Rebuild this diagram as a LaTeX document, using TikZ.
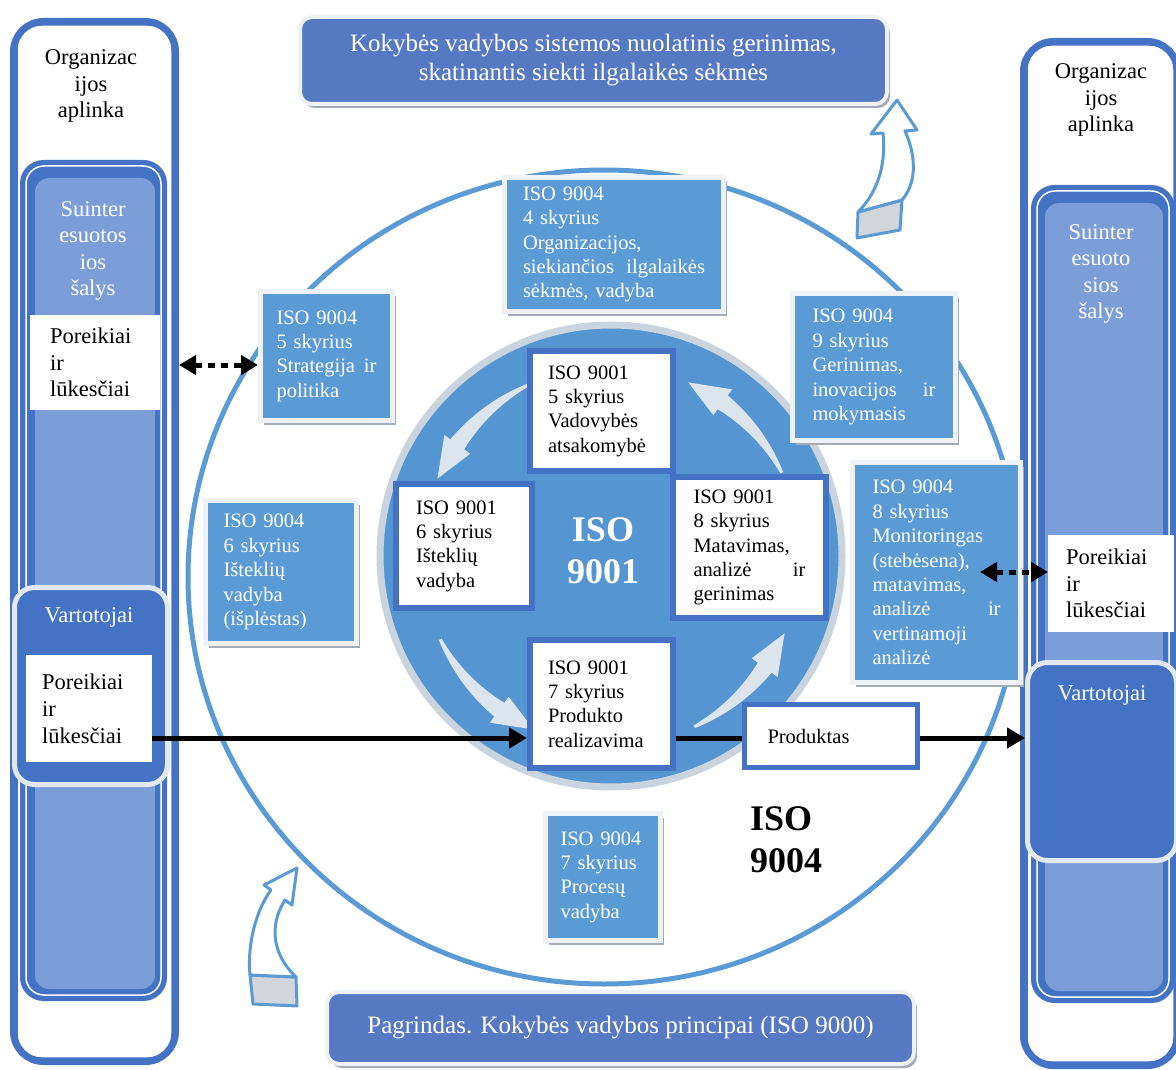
\documentclass[tikz,border=0pt]{standalone}
\usepackage{fontspec}
\setmainfont{Liberation Serif}
\usetikzlibrary{arrows.meta,shapes.geometric,shadows}

\definecolor{frameblue}{HTML}{4472C4}
\definecolor{paleblue}{HTML}{7C9ED8}
\definecolor{midblue}{HTML}{5B9BD5}
\definecolor{coreblue}{HTML}{5596D2}
\definecolor{bannerblue}{HTML}{5679C3}
\definecolor{rimgrey}{HTML}{CAD4DF}
\definecolor{rimwhite}{HTML}{E2E8EF}
\definecolor{edgewhite}{HTML}{EEF1F5}
\definecolor{shadowgrey}{HTML}{A3ABB4}
\definecolor{ribbon}{HTML}{DCE4ED}
\definecolor{foldgrey}{HTML}{D2D5D9}

\newcommand\txtbox{\fontsize{20.5}{24.4}\selectfont}
\newcommand\txtcol{\fontsize{22.5}{26.6}\selectfont}
\newcommand\txtbanner{\fontsize{25}{29}\selectfont}
\newcommand\txtbig{\fontsize{36}{42}\selectfont\bfseries}

\tikzset{
  colframe/.style={rectangle, draw=frameblue, line width=7pt, rounded corners=30pt, fill=white, inner sep=0pt, anchor=north west},
  container/.style={rectangle, draw=frameblue, fill=frameblue, line width=3pt, rounded corners=22pt, inner sep=0pt, anchor=north west},
  vartbox/.style={rectangle, draw=rimwhite, fill=frameblue, line width=5pt, rounded corners=20pt, inner sep=0pt, anchor=north west},
  whitebox/.style={rectangle, fill=white, anchor=north west, font=\txtcol, align=left, inner ysep=0pt, text=black},
  coltitle/.style={font=\txtcol, align=center, inner sep=0pt},
  isobox/.style={rectangle, draw=frameblue, line width=6pt, fill=white, anchor=north west, font=\txtbox, align=left, inner ysep=0pt},
  boxshadow/.style={drop shadow={shadow xshift=3pt, shadow yshift=-4pt, fill=shadowgrey, opacity=1}},
  advbox/.style={rectangle, draw=edgewhite, line width=5pt, fill=midblue, text=white, anchor=north west, font=\txtbox, align=left, inner ysep=0pt, boxshadow},
  banner/.style={rectangle, rounded corners=12pt, draw=edgewhite, line width=4pt, fill=bannerblue, text=white, font=\txtbanner, align=center, anchor=north west, boxshadow},
  curlarrow/.style={draw=midblue, line width=3pt, line join=round},
  dotarrow/.style={line width=5pt, dash pattern=on 7pt off 6pt, {Triangle[length=17pt,width=19pt]}-{Triangle[length=17pt,width=19pt]}},
  flowarrow/.style={line width=5pt, -{Triangle[length=18pt,width=20pt]}},
  flowline/.style={line width=5pt},
}

\begin{document}
\begin{tikzpicture}[x=1pt,y=-1pt]
\useasboundingbox (0,0) rectangle (1176,1070);

% ---------- left column: environment, interested parties, customers ----------
\node[colframe, minimum width=162, minimum height=1040] (lframe) at (10,18) {};
\draw[frameblue, line width=1.5pt, rounded corners=24pt] ([shift={(7,7)}]lframe.north west) rectangle ([shift={(-7,-7)}]lframe.south east);
\node[coltitle] (lorg) at (91,86) {Organizac\\ijos\\aplinka};
\node[container, minimum width=144, minimum height=838] (lsuin) at (20,160) {};
\draw[white, line width=1.5pt, rounded corners=18pt] ([shift={(6,6)}]lsuin.north west) rectangle ([shift={(-6,-6)}]lsuin.south east);
\fill[paleblue, rounded corners=14pt] ([shift={(15,18)}]lsuin.north west) rectangle ([shift={(-12,-12)}]lsuin.south east);
\node[coltitle, text=white] (lsuinlbl) at (93,251) {Suinter\\esuotos\\ios\\šalys};
\node[whitebox, minimum height=95, text width=90, inner xsep=20pt] (lpor) at (30,315) {Poreikiai\\ir\\lūkesčiai};
\node[vartbox, minimum width=153, minimum height=197] (lvart) at (12,585) {};
\node[coltitle, text=white] (lvartlbl) at (89,617) {Vartotojai};
\node[whitebox, minimum height=107, text width=94, inner xsep=16pt] (lpor2) at (26,655) {Poreikiai\\ir\\lūkesčiai};

% ---------- right column ----------
\node[colframe, minimum width=154, minimum height=1024] (rframe) at (1020,38) {};
\draw[frameblue, line width=1.5pt, rounded corners=24pt] ([shift={(7,7)}]rframe.north west) rectangle ([shift={(-7,-7)}]rframe.south east);
\node[coltitle] (rorg) at (1101,100) {Organizac\\ijos\\aplinka};
\node[container, minimum width=141, minimum height=815] (rsuin) at (1031,185) {};
\draw[white, line width=1.5pt, rounded corners=18pt] ([shift={(6,6)}]rsuin.north west) rectangle ([shift={(-6,-6)}]rsuin.south east);
\fill[paleblue, rounded corners=14pt] ([shift={(14,18)}]rsuin.north west) rectangle ([shift={(-12,-12)}]rsuin.south east);
\node[coltitle, text=white] (rsuinlbl) at (1101,274) {Suinter\\esuoto\\sios\\šalys};
\node[whitebox, minimum height=97, text width=90, inner xsep=18pt] (rpor) at (1048,535) {Poreikiai\\ir\\lūkesčiai};
\node[vartbox, minimum width=149, minimum height=198] (rvart) at (1025,660) {};
\node[coltitle, text=white] (rvartlbl) at (1102,695) {Vartotojai};

% ---------- ISO 9004 ring ----------
\node[ellipse, draw=midblue, line width=5pt, minimum width=832, minimum height=814, inner sep=0pt] (ring) at (604,577) {};

% curled arrow up to the improvement banner
\filldraw[curlarrow, fill=foldgrey] (857,238) -- (858,212) -- (902,200) -- (900,230) -- cycle;
\filldraw[curlarrow, fill=white] (858,212) .. controls (880,190) and (886,160) .. (883,133)
  -- (871,134) -- (897,100) -- (917,130) -- (905,131)
  .. controls (918,160) and (915,185) .. (902,200) -- cycle;
% curled arrow up from the principles banner
\filldraw[curlarrow, fill=foldgrey] (250,975) -- (296,977) -- (297,1006) -- (253,1004) -- cycle;
\filldraw[curlarrow, fill=white] (250,975) .. controls (247,945) and (256,910) .. (271,890)
  -- (264,885) -- (297,868) -- (292,905) -- (285,900)
  .. controls (272,920) and (268,950) .. (296,977) -- cycle;

% banners
\node[banner, minimum width=587, minimum height=87] (topban) at (298,15) {Kokybės vadybos sistemos nuolatinis gerinimas,\\skatinantis siekti ilgalaikės sėkmės};
\node[banner, minimum width=587, minimum height=72] (botban) at (325,990) {\raisebox{4pt}{Pagrindas. Kokybės vadybos principai (ISO 9000)}};

% ---------- ISO 9001 core ----------
\node[circle, fill=coreblue, draw=rimgrey, line width=7pt, minimum size=462, inner sep=0pt] (core) at (611,556) {};
\begin{scope}[shift={(core.center)}]
  \foreach \o in {0,90,180,270} {
    \fill[ribbon]
      plot[domain=0:1, samples=25, variable=\t] ({(190+1.5+7*\t)*cos(\o+26+28*\t)}, {-(190+1.5+7*\t)*sin(\o+26+28*\t)})
      -- ({206*cos(\o+54)}, {-206*sin(\o+54)})
      -- ({190*cos(\o+66)}, {-190*sin(\o+66)})
      -- ({174*cos(\o+54)}, {-174*sin(\o+54)})
      -- plot[domain=1:0, samples=25, variable=\t] ({(190-1.5-7*\t)*cos(\o+26+28*\t)}, {-(190-1.5-7*\t)*sin(\o+26+28*\t)})
      -- cycle;
  }
\end{scope}

\node[isobox, minimum height=120, text width=107, inner xsep=18pt] (s5) at (527,348) {ISO 9001\\5 skyrius\\Vadovybės\\atsakomybė};
\node[isobox, minimum height=124, text width=96, inner xsep=20pt] (s6) at (393,481) {ISO 9001\\6 skyrius\\Išteklių\\vadyba};
\node[isobox, minimum height=141, text width=112, inner xsep=20.5pt] (s8) at (670,474) {ISO 9001\\8 skyrius\\Matavimas,\\analizė\hfill ir\\gerinimas};
\node[isobox, minimum height=128, text width=107, inner xsep=18pt] (s7) at (527,637) {ISO 9001\\7 skyrius\\Produkto\\realizavima};
\node[font=\txtbig, text=white, align=center, inner sep=0pt] (lbl9001) at (603,551) {ISO\\9001};

% ---------- ISO 9004 chapters ----------
\node[advbox, minimum height=134, text width=182, inner xsep=18.5pt] (b4) at (502,175) {ISO 9004\\4 skyrius\\Organizacijos,\\siekiančios\hfill ilgalaikės\\sėkmės, vadyba};
\node[advbox, minimum height=129, text width=100, inner xsep=16pt] (b5) at (258,289) {ISO 9004\\5 skyrius\\Strategija\hfill ir\\politika};
\node[advbox, minimum height=147, text width=123, inner xsep=20pt] (b9) at (790,291) {ISO 9004\\9 skyrius\\Gerinimas,\\inovacijos\hfill ir\\mokymasis};
\node[advbox, minimum height=220, text width=128, inner xsep=20pt] (b8) at (850,460) {ISO 9004\\8 skyrius\\Monitoringas\\(stebėsena),\\matavimas,\\analizė\hfill ir\\vertinamoji\\analizė};
\node[advbox, minimum height=143, text width=115, inner xsep=18pt] (b6) at (203,498) {ISO 9004\\6 skyrius\\Išteklių\\vadyba\\(išplėstas)};
\node[advbox, minimum height=127, text width=85, inner xsep=15pt] (b7) at (543,811) {ISO 9004\\7 skyrius\\Procesų\\vadyba};
\node[font=\txtbig, align=left, anchor=west, inner sep=0pt] (lbl9004) at (750,840) {ISO\\9004};

% ---------- product ----------
\node[isobox, draw=frameblue, line width=5pt, minimum height=63, text width=127, inner xsep=23pt] (prod) at (742,702) {Produktas};

% ---------- connectors ----------
\coordinate (dotl) at (0,365);
\coordinate (dotr) at (980,572);
\coordinate (flow) at (0,738);
\draw[dotarrow] (lframe.east |- dotl) -- (b5.west |- dotl);
\draw[dotarrow] (dotr) -- (rpor.west |- dotr);
\draw[flowarrow] (lpor2.east |- flow) -- (s7.west |- flow);
\draw[flowline] (s7.east |- flow) -- (prod.west |- flow);
\draw[flowarrow] (prod.east |- flow) -- (rvart.west |- flow);
\end{tikzpicture}
\end{document}
